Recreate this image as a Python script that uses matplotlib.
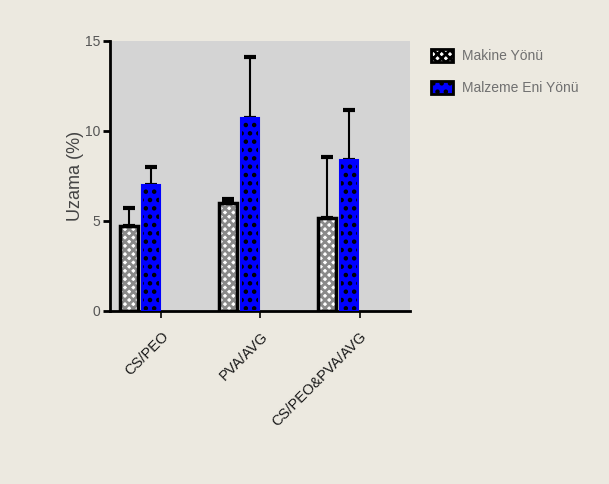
import numpy as np
import matplotlib
matplotlib.use("Agg")
import matplotlib.pyplot as plt
from matplotlib.patches import Patch

plt.rcParams["font.family"] = ["Liberation Sans", "DejaVu Sans"]
plt.rcParams["hatch.linewidth"] = 2.0

groups = ["CS/PEO", "PVA/AVG", "CS/PEO&PVA/AVG"]
series = ["Makine Yönü", "Malzeme Eni Yönü"]
makine = [4.75, 6.0, 5.15]
makine_err = [1.0, 0.2, 3.4]
malzeme = [7.0, 10.7, 8.4]
malzeme_err = [1.0, 3.4, 2.75]

bg = "#ece9e0"
fig = plt.figure(figsize=(6.09, 4.84), dpi=100, facecolor=bg)
ax = fig.add_axes([110 / 609, 1 - 311 / 484, 300 / 609, 270 / 484])
ax.set_facecolor("#d4d4d4")

x = np.arange(len(groups))
w = 0.18
off = 0.11

# makine: gray/white hatch + black border
ax.bar(x - off, makine, w, color="white", edgecolor="#8a8a8a", hatch="xxxx", linewidth=0, zorder=2)
ax.bar(x - off, makine, w, fill=False, edgecolor="black", linewidth=2.5, zorder=3)
# malzeme: blue with black checks
ax.bar(x + off, malzeme, w, color="#0000ff", edgecolor="black", hatch="..", linewidth=0, zorder=2)
ax.bar(x + off, malzeme, w, fill=False, edgecolor="#0000ff", linewidth=1.5, zorder=3)

ax.errorbar(x - off, makine, yerr=[np.zeros(3), makine_err], fmt="none", ecolor="black",
            elinewidth=1.5, capsize=4, capthick=3, zorder=4)
ax.errorbar(x + off, malzeme, yerr=[np.zeros(3), malzeme_err], fmt="none", ecolor="black",
            elinewidth=1.5, capsize=4, capthick=3, zorder=1)

ax.set_xlim(-0.3, 2.73)
ax.set_ylim(0, 15)
ax.set_yticks([0, 5, 10, 15])
ax.set_xticks(x + 0.22)
ax.set_xticklabels(groups, rotation=45, ha="right", va="top", rotation_mode="anchor",
                   fontsize=10.5, color="#1a1a1a")
ax.tick_params(axis="y", labelsize=10, labelcolor="#555555", length=5, width=2,
               direction="out", pad=2)
ax.tick_params(axis="x", length=5, width=1.2, pad=8)
for s in ["top", "right"]:
    ax.spines[s].set_visible(False)
ax.spines["left"].set_linewidth(2)
ax.spines["bottom"].set_linewidth(2)
ax.set_ylabel("Uzama (%)", fontsize=13, color="#444444", labelpad=1)

handles = [
    Patch(facecolor="white", edgecolor="black", hatch="xxxx", linewidth=2),
    Patch(facecolor="#0000ff", edgecolor="black", hatch="..", linewidth=2),
]
fig.legend(handles, series, loc="upper left", bbox_to_anchor=(418 / 609, 1 - 36 / 484),
           frameon=False, fontsize=10, labelcolor="#707070", handlelength=1.6,
           handleheight=1.1, labelspacing=1.3, handletextpad=0.7)

fig.savefig("out.png", dpi=100, facecolor=bg)
